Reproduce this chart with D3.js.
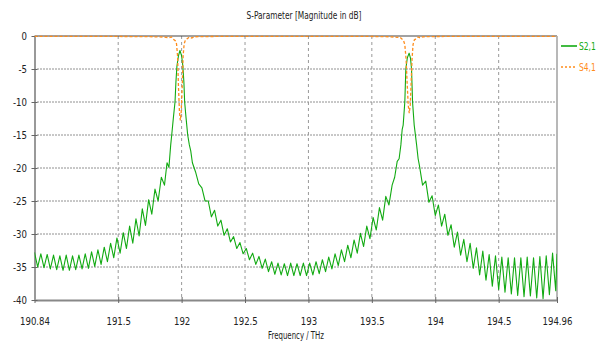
<!DOCTYPE html>
<html><head><meta charset="utf-8">
<script src="https://cdn.jsdelivr.net/npm/d3@7/dist/d3.min.js"></script>
<style>
html,body{margin:0;padding:0;background:#fff;}
svg text{font-family:"DejaVu Sans","Liberation Sans",sans-serif;}
</style></head>
<body>
<svg id="chart" width="599" height="342"></svg>
<script>
const title = "S-Parameter [Magnitude in dB]";
const xTitle = "Frequency / THz";
const seriesNames = ["S2,1", "S4,1"];
const xTicks = [190.84, 191.5, 192, 192.5, 193, 193.5, 194, 194.5, 194.96];
const yTicks = [0, -5, -10, -15, -20, -25, -30, -35, -40];
const xDomain = [190.84, 194.96];
const yDomain = [-40, 0];

// S2,1 magnitude (dB): [frequency THz, dB]
const s21 = [
[190.840,-32.8],[190.865,-35.0],[190.890,-33.0],[190.915,-35.1],[190.940,-33.1],[190.965,-35.3],
[190.990,-33.2],[191.015,-35.4],[191.040,-33.3],[191.065,-35.5],[191.090,-33.2],[191.115,-35.5],
[191.140,-33.3],[191.165,-35.4],[191.190,-33.2],[191.215,-35.3],[191.240,-33.0],[191.265,-35.2],
[191.290,-32.7],[191.315,-34.9],[191.340,-32.4],[191.365,-34.6],[191.390,-32.0],[191.415,-34.2],
[191.440,-31.4],[191.465,-33.6],[191.490,-30.6],[191.515,-32.9],[191.540,-29.8],[191.565,-32.2],
[191.590,-28.8],[191.615,-31.4],[191.640,-27.7],[191.665,-30.3],[191.690,-26.2],[191.715,-28.7],
[191.740,-24.8],[191.765,-27.0],[191.790,-23.2],[191.815,-25.0],[191.840,-21.4],[191.865,-22.6],
[191.885,-19.2],[191.900,-19.9],[191.914,-16.5],[191.922,-15.0],[191.935,-12.4],[191.948,-10.0],
[191.955,-7.0],[191.963,-4.6],[191.975,-3.0],[191.987,-2.2],[192.000,-3.0],[192.010,-4.6],
[192.018,-7.0],[192.024,-10.0],[192.035,-12.4],[192.048,-15.0],[192.061,-16.5],[192.072,-17.4],
[192.085,-19.2],[192.110,-20.6],[192.135,-22.4],[192.160,-23.0],[192.185,-25.0],[192.210,-25.0],
[192.235,-27.4],[192.260,-26.4],[192.285,-28.8],[192.310,-27.9],[192.335,-30.2],[192.360,-29.2],
[192.385,-31.2],[192.410,-30.4],[192.435,-32.2],[192.460,-31.3],[192.485,-33.0],[192.510,-32.2],
[192.535,-33.9],[192.560,-32.9],[192.585,-34.6],[192.610,-33.4],[192.635,-35.2],[192.660,-33.8],
[192.685,-35.7],[192.710,-34.2],[192.735,-36.1],[192.760,-34.4],[192.785,-36.2],[192.810,-34.5],
[192.835,-36.3],[192.860,-34.4],[192.885,-36.3],[192.910,-34.5],[192.935,-36.3],[192.960,-34.4],
[192.985,-36.3],[193.010,-34.4],[193.035,-36.2],[193.060,-34.2],[193.085,-36.0],[193.110,-33.9],
[193.135,-35.7],[193.160,-33.5],[193.185,-35.3],[193.210,-33.0],[193.235,-34.8],[193.260,-32.4],
[193.285,-34.2],[193.310,-31.7],[193.335,-33.6],[193.360,-30.9],[193.385,-32.9],[193.410,-29.9],
[193.435,-31.9],[193.460,-28.8],[193.485,-30.7],[193.510,-27.5],[193.535,-29.4],[193.560,-26.0],
[193.585,-27.9],[193.610,-24.3],[193.635,-25.6],[193.660,-22.6],[193.680,-21.4],[193.700,-19.0],
[193.715,-18.6],[193.729,-16.5],[193.739,-14.2],[193.747,-13.5],[193.760,-10.0],[193.768,-5.0],
[193.780,-3.3],[193.794,-2.6],[193.805,-3.4],[193.813,-5.0],[193.821,-10.0],[193.834,-13.5],
[193.853,-16.5],[193.865,-18.6],[193.875,-19.6],[193.900,-22.6],[193.925,-22.0],[193.950,-25.2],
[193.975,-24.2],[194.000,-27.2],[194.025,-25.6],[194.050,-28.8],[194.075,-27.0],[194.100,-30.2],
[194.125,-28.6],[194.150,-32.0],[194.175,-29.7],[194.200,-33.2],[194.225,-30.8],[194.250,-34.2],
[194.275,-31.4],[194.300,-35.2],[194.325,-32.1],[194.350,-36.2],[194.375,-32.6],[194.400,-37.0],
[194.425,-33.1],[194.450,-37.9],[194.475,-33.3],[194.500,-38.4],[194.525,-33.5],[194.550,-38.8],
[194.575,-33.6],[194.600,-39.1],[194.625,-33.6],[194.650,-39.3],[194.675,-33.6],[194.700,-39.5],
[194.725,-33.5],[194.750,-39.4],[194.775,-33.6],[194.800,-39.7],[194.825,-33.4],[194.850,-39.8],
[194.875,-33.3],[194.900,-39.2],[194.925,-32.9],[194.950,-38.6],[194.960,-33.0]
];

// S4,1 magnitude (dB)
const s41 = [
[190.84,-0.05],[191.00,-0.05],[191.20,-0.05],[191.40,-0.06],[191.60,-0.08],[191.75,-0.10],
[191.85,-0.15],[191.90,-0.25],[191.92,-0.15],[191.935,-0.5],[191.95,-0.7],[191.96,-1.2],
[191.968,-3.0],[191.975,-7.5],[191.983,-11.5],[191.99,-12.8],[191.997,-11.5],[192.005,-7.5],
[192.012,-3.0],[192.02,-1.2],[192.03,-0.6],[192.045,-0.4],[192.06,-0.15],[192.08,-0.3],
[192.10,-0.12],[192.20,-0.08],[192.40,-0.05],[192.60,-0.05],[192.80,-0.05],[193.00,-0.05],
[193.20,-0.05],[193.40,-0.06],[193.55,-0.08],[193.65,-0.12],[193.70,-0.2],[193.72,-0.15],
[193.735,-0.4],[193.75,-0.7],[193.76,-1.3],[193.77,-3.5],[193.778,-7.0],[193.787,-10.5],
[193.795,-11.7],[193.803,-10.5],[193.81,-7.0],[193.817,-3.5],[193.825,-1.3],[193.835,-0.6],
[193.85,-0.4],[193.865,-0.15],[193.88,-0.3],[193.90,-0.12],[194.00,-0.08],[194.20,-0.05],
[194.50,-0.05],[194.70,-0.05],[194.96,-0.05]
];

const colors = ["#12aa12", "#ff8c1a"];

const svg = d3.select("#chart");
const m = {left: 34.5, right: 557, top: 36, bottom: 300};
const x = d3.scaleLinear().domain(xDomain).range([m.left, m.right]);
const y = d3.scaleLinear().domain(yDomain).range([m.bottom, m.top]);

// grid
svg.append("g").selectAll("line").data(yTicks.filter(v => v > -40 && v < 0)).join("line")
  .attr("x1", m.left).attr("x2", m.right).attr("y1", d => y(d)).attr("y2", d => y(d))
  .attr("stroke", "#222").attr("stroke-width", 1).attr("stroke-dasharray", "1,2");
svg.append("g").selectAll("line").data(xTicks.slice(1, -1)).join("line")
  .attr("x1", d => x(d)).attr("x2", d => x(d)).attr("y1", m.top).attr("y2", m.bottom)
  .attr("stroke", "#999").attr("stroke-width", 1).attr("stroke-dasharray", "3,3");

// frame top/right
svg.append("line").attr("x1", m.left).attr("x2", m.right).attr("y1", m.top).attr("y2", m.top)
  .attr("stroke", "#444").attr("stroke-width", 1);
svg.append("line").attr("x1", m.right).attr("x2", m.right).attr("y1", m.top).attr("y2", m.bottom)
  .attr("stroke", "#b8b8b8").attr("stroke-width", 2);

// axes
const xAxis = d3.axisBottom(x).tickValues(xTicks).tickFormat(d => String(d)).tickSizeInner(3).tickSizeOuter(0).tickPadding(14);
const gx = svg.append("g").attr("transform", `translate(0,${m.bottom})`).call(xAxis);
gx.select(".domain").attr("stroke", "#888").attr("stroke-width", 2);
gx.selectAll(".tick line").attr("stroke", "#666").attr("y1", -3).attr("y2", 3);
gx.selectAll(".tick text").attr("fill", "#222").attr("font-size", 11)
  .attr("transform", "scale(0.78,1)");

const yAxis = d3.axisLeft(y).tickValues(yTicks).tickFormat(d => String(d)).tickSizeInner(3).tickSizeOuter(0).tickPadding(5);
const gy = svg.append("g").attr("transform", `translate(${m.left},0)`).call(yAxis);
gy.select(".domain").attr("stroke", "#999").attr("stroke-width", 2);
gy.selectAll(".tick line").attr("stroke", "#666").attr("x1", -3).attr("x2", 3);
gy.selectAll(".tick text").attr("fill", "#222").attr("font-size", 11)
  .attr("x", -7.5 / 0.78).attr("transform", "scale(0.78,1)");

// clip
svg.append("clipPath").attr("id", "clip").append("rect")
  .attr("x", m.left).attr("y", m.top - 2).attr("width", m.right - m.left).attr("height", m.bottom - m.top + 2);

const line = d3.line().x(d => x(d[0])).y(d => y(d[1]));
const plot = svg.append("g").attr("clip-path", "url(#clip)");
plot.append("path").datum(s21).attr("d", line).attr("fill", "none")
  .attr("stroke", colors[0]).attr("stroke-width", 1.1).attr("stroke-linejoin", "round");
plot.append("path").datum(s41).attr("d", line).attr("fill", "none")
  .attr("stroke", colors[1]).attr("stroke-width", 1.3).attr("stroke-dasharray", "3,2");

// titles
svg.append("text").attr("x", 304).attr("y", 19).attr("text-anchor", "middle")
  .attr("font-size", 11).attr("fill", "#222")
  .attr("textLength", 115).attr("lengthAdjust", "spacingAndGlyphs").text(title);
svg.append("text").attr("x", 296).attr("y", 339).attr("text-anchor", "middle")
  .attr("font-size", 11).attr("fill", "#222")
  .attr("textLength", 56).attr("lengthAdjust", "spacingAndGlyphs").text(xTitle);

// legend
const leg = svg.append("g");
seriesNames.forEach((n, i) => {
  const ly = 46 + i * 21;
  leg.append("line").attr("x1", 561).attr("x2", 577).attr("y1", ly).attr("y2", ly)
    .attr("stroke", colors[i]).attr("stroke-width", i === 0 ? 1.6 : 1.4)
    .attr("stroke-dasharray", i === 0 ? null : "2,2");
  leg.append("g").attr("transform", `translate(579,${ly + 4}) scale(0.72,1)`)
    .append("text").attr("x", 0).attr("y", 0).attr("font-size", 10.5)
    .attr("fill", colors[i]).text(n);
});
</script>
</body></html>
